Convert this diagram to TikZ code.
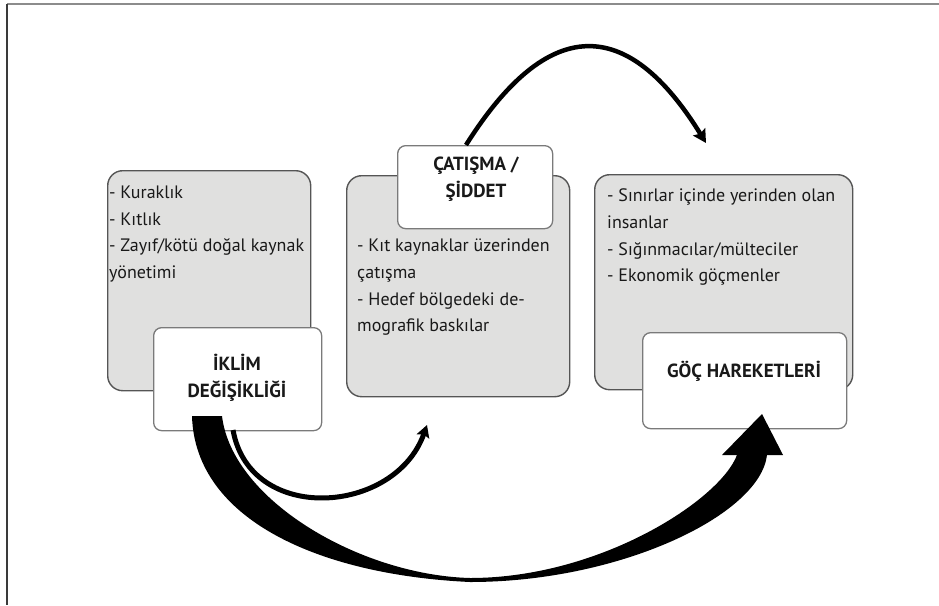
\documentclass[tikz,border=0pt]{standalone}
\usepackage{fontspec}
\setmainfont{PT Sans}
\usetikzlibrary{arrows.meta,calc}
\definecolor{boxgray}{HTML}{E0E0DF}
\definecolor{boxline}{HTML}{555555}
\definecolor{wline}{HTML}{7A7A7A}
\definecolor{frametop}{HTML}{8C8C8C}
\definecolor{frameleft}{HTML}{3A3A3A}
\begin{document}
\begin{tikzpicture}[x=1pt,y=-1pt,
  graybox/.style={draw=boxline, line width=1.4pt, fill=boxgray, rounded corners=15pt, anchor=north west, inner sep=0pt},
  whitebox/.style={draw=wline, line width=1.3pt, fill=white, rounded corners=8pt, anchor=north west, inner sep=0pt},
  listtext/.style={anchor=north west, inner sep=0pt, align=left, font=\fontsize{18}{26.7}\selectfont, text=black!90},
  labeltext/.style={anchor=north, inner sep=0pt, align=center, font=\bfseries\fontsize{19}{26.8}\selectfont, text=black!90},
  thinarrow/.style={line width=4.5pt, -{Stealth[length=13pt, width=14pt, inset=2pt]}}
]
\useasboundingbox (0,0) rectangle (939,605);
% frame
\draw[frametop, line width=1.5pt] (7,4) -- (939,4);
\draw[frameleft, line width=1.5pt] (7,4) -- (7,605);

% gray boxes
\node[graybox, minimum width=203pt, minimum height=220pt] (g1) at (107,170) {};
\node[graybox, minimum width=223pt, minimum height=221pt] (g2) at (346,175) {};
\node[graybox, minimum width=258pt, minimum height=215pt] (g3) at (594,174) {};

% list texts
\node[listtext] (t1) at (109,179.6) {\strut- Kuraklık\\- Kıtlık\\- Zayıf/kötü doğal kaynak\\yönetimi};
\node[listtext] (t2) at (357,233) {\strut- Kıt kaynaklar üzerinden\\çatışma\\- Hedef bölgedeki de-\\mografik baskılar};
\node[listtext] (t3) at (607,183) {\strut- Sınırlar içinde yerinden olan\\insanlar\\- Sığınmacılar/mülteciler\\- Ekonomik göçmenler};

% white boxes
\node[whitebox, minimum width=168pt, minimum height=103pt] (w1) at (153,327) {};
\node[whitebox, minimum width=155pt, minimum height=83pt] (w2) at (397,145) {};
\node[whitebox, minimum width=204pt, minimum height=96pt] (w3) at (642,332) {};

\node[labeltext] (l1) at (237,351.3) {\strut İKLİM\\DEĞİŞİKLİĞİ};
\node[labeltext] (l2) at (476,151.3) {\strut ÇATIŞMA /\\ŞİDDET};
\node[labeltext, anchor=base] (l3) at (744,377) {GÖÇ HAREKETLERİ};

% connector coordinates
\coordinate (a1s) at (233,430);
\coordinate (a1e) at (427,425);
\coordinate (a2s) at (466,145);
\coordinate (a2e) at (706,143);

% small arrow: iklim -> catisma
\draw[line width=5pt, -{Stealth[length=12pt, width=13pt, inset=2pt]}] (a1s) .. controls (250,525) and (395,515) .. (a1e);
% top arc: catisma -> goc
\draw[thinarrow] (a2s) .. controls (548,15) and (627,15) .. (a2e);

% big tapered arrow: iklim -> goc
\coordinate (bo) at (192,416);
\coordinate (bi) at (222,416);
\coordinate (bb) at (470,582);
\coordinate (bt) at (470,578);
\coordinate (htip) at (762,414);
\fill[black] (bo) .. controls (195,520) and (320,575) .. (bb)
  .. controls (620,582) and (760,515) .. (767,455)
  -- (783,455) -- (htip) -- (722,455) -- (737,455)
  .. controls (720,500) and (600,578) .. (bt)
  .. controls (360,575) and (232,500) .. (bi) -- cycle;
\end{tikzpicture}
\end{document}
